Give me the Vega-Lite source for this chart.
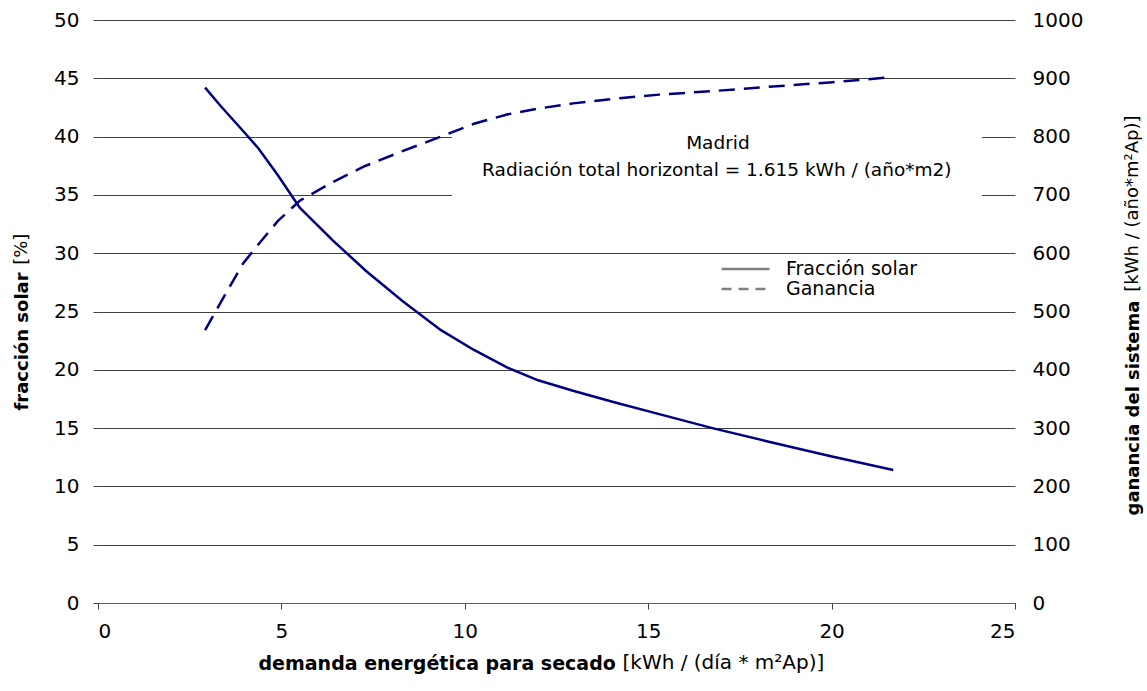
{
  "$schema": "https://vega.github.io/schema/vega-lite/v6.json",
  "width": 917,
  "height": 583,
  "autosize": {"type": "none"},
  "padding": {"left": 98, "top": 20, "right": 132, "bottom": 88},
  "background": "white",
  "config": {
    "font": "DejaVu Sans",
    "view": {"stroke": null},
    "axis": {
      "labelColor": "black",
      "titleColor": "black",
      "gridColor": "#404040",
      "gridOpacity": 1,
      "gridWidth": 1,
      "tickColor": "#404040",
      "domainColor": "#606060"
    }
  },
  "datasets": {
    "curva": [
      {"demanda": 2.92, "fraccion": 44.2, "ganancia": 468},
      {"demanda": 3.35, "fraccion": 42.6, "ganancia": 516},
      {"demanda": 3.95, "fraccion": 40.5, "ganancia": 582},
      {"demanda": 4.37, "fraccion": 39.0, "ganancia": 615},
      {"demanda": 4.9, "fraccion": 36.7, "ganancia": 655},
      {"demanda": 5.5, "fraccion": 33.9, "ganancia": 690},
      {"demanda": 6.4, "fraccion": 31.1, "ganancia": 722},
      {"demanda": 7.3, "fraccion": 28.5, "ganancia": 750},
      {"demanda": 8.3, "fraccion": 25.9, "ganancia": 775},
      {"demanda": 9.35, "fraccion": 23.4, "ganancia": 800},
      {"demanda": 10.25, "fraccion": 21.7, "ganancia": 822},
      {"demanda": 11.15, "fraccion": 20.2, "ganancia": 838},
      {"demanda": 12.0, "fraccion": 19.1, "ganancia": 848},
      {"demanda": 12.95, "fraccion": 18.2, "ganancia": 857},
      {"demanda": 14.1, "fraccion": 17.2, "ganancia": 865},
      {"demanda": 15.3, "fraccion": 16.2, "ganancia": 872},
      {"demanda": 16.75, "fraccion": 15.0, "ganancia": 878},
      {"demanda": 18.2, "fraccion": 13.9, "ganancia": 885},
      {"demanda": 19.95, "fraccion": 12.6, "ganancia": 893},
      {"demanda": 21.68, "fraccion": 11.4, "ganancia": 902}
    ],
    "leyenda": [
      {"serie": "Fracción solar"},
      {"serie": "Ganancia"}
    ],
    "uno": [{}]
  },
  "layer": [
    {
      "layer": [
        {
          "data": {"name": "uno"},
          "mark": {"type": "rect", "fill": "white"},
          "encoding": {
            "x": {"datum": 9.65, "type": "quantitative"},
            "x2": {"datum": 24.1},
            "y": {"datum": 34.4, "type": "quantitative"},
            "y2": {"datum": 40.4}
          }
        },
        {
          "data": {"name": "curva"},
          "mark": {"type": "line", "color": "#000080", "strokeWidth": 2.5},
          "encoding": {
            "x": {
              "field": "demanda",
              "type": "quantitative",
              "scale": {"domain": [0, 25], "nice": false, "zero": false},
              "axis": {
                "values": [0, 5, 10, 15, 20, 25],
                "grid": false,
                "domain": true,
                "domainWidth": 1,
                "ticks": true,
                "tickSize": 6,
                "labelFont": "DejaVu Sans",
                "labelFontSize": 20,
                "labelPadding": 12,
                "title": "demanda energética para secado",
                "titleFont": "DejaVu Sans",
                "titleFontSize": 19,
                "titleFontWeight": "bold",
                "titleAnchor": "start",
                "titleAlign": "left",
                "titleBaseline": "alphabetic",
                "titleX": 160,
                "titleY": 66
              }
            },
            "y": {
              "field": "fraccion",
              "type": "quantitative",
              "scale": {"domain": [0, 50], "nice": false},
              "axis": {
                "values": [0, 5, 10, 15, 20, 25, 30, 35, 40, 45, 50],
                "grid": true,
                "domain": false,
                "ticks": true,
                "tickSize": 5,
                "labelFont": "DejaVu Sans",
                "labelFontSize": 20,
                "labelPadding": 14,
                "title": "fracción solar",
                "titleFont": "DejaVu Sans",
                "titleFontSize": 18,
                "titleFontWeight": "bold",
                "titleAngle": 270,
                "titleAlign": "left",
                "titleBaseline": "alphabetic",
                "titleAnchor": "start",
                "titleX": -71,
                "titleY": 390
              }
            }
          }
        },
        {
          "data": {"name": "leyenda"},
          "mark": {"type": "line", "color": "#808080", "strokeWidth": 2.5},
          "encoding": {
            "strokeDash": {
              "field": "serie",
              "type": "nominal",
              "scale": {"domain": ["Fracción solar", "Ganancia"], "range": [[1, 0], [10, 7]]},
              "legend": {
                "orient": "none",
                "legendX": 622,
                "legendY": 239,
                "title": null,
                "symbolType": "stroke",
                "symbolSize": 2304,
                "symbolStrokeWidth": 2.5,
                "clipHeight": 20,
                "rowPadding": 0,
                "padding": 0,
                "labelOffset": 15,
                "labelFont": "DejaVu Sans",
                "labelFontSize": 19,
                "labelColor": "black",
                "fillColor": "white"
              }
            }
          }
        },
        {
          "data": {"name": "uno"},
          "mark": {"type": "text", "font": "DejaVu Sans", "fontSize": 18.5, "align": "center", "baseline": "middle", "color": "black"},
          "encoding": {
            "x": {"datum": 16.9, "type": "quantitative"},
            "y": {"datum": 39.45, "type": "quantitative"},
            "text": {"value": "Madrid"}
          }
        },
        {
          "data": {"name": "uno"},
          "mark": {"type": "text", "font": "DejaVu Sans", "fontSize": 18.5, "align": "center", "baseline": "middle", "color": "black"},
          "encoding": {
            "x": {"datum": 16.87, "type": "quantitative"},
            "y": {"datum": 37.1, "type": "quantitative"},
            "text": {"value": "Radiación total horizontal = 1.615 kWh / (año*m2)"}
          }
        },
        {
          "data": {"name": "uno"},
          "mark": {"type": "text", "font": "DejaVu Sans", "fontSize": 20, "align": "left", "baseline": "alphabetic", "color": "black"},
          "encoding": {
            "x": {"datum": 14.3, "type": "quantitative"},
            "y": {"datum": -5.66, "type": "quantitative"},
            "text": {"value": "[kWh / (día * m²Ap)]"}
          }
        },
        {
          "data": {"name": "uno"},
          "mark": {"type": "text", "font": "DejaVu Sans", "fontSize": 18, "align": "left", "baseline": "alphabetic", "angle": 270, "color": "black"},
          "encoding": {
            "x": {"datum": -1.94, "type": "quantitative"},
            "y": {"datum": 29.0, "type": "quantitative"},
            "text": {"value": "[%]"}
          }
        },
        {
          "data": {"name": "uno"},
          "mark": {"type": "text", "font": "DejaVu Sans", "fontSize": 18, "align": "left", "baseline": "alphabetic", "angle": 270, "color": "black"},
          "encoding": {
            "x": {"datum": 28.35, "type": "quantitative"},
            "y": {"datum": 26.7, "type": "quantitative"},
            "text": {"value": "[kWh / (año*m²Ap)]"}
          }
        }
      ]
    },
    {
      "data": {"name": "curva"},
      "mark": {"type": "line", "color": "#000080", "strokeWidth": 2.5, "strokeDash": [16, 9]},
      "encoding": {
        "x": {"field": "demanda", "type": "quantitative"},
        "y": {
          "field": "ganancia",
          "type": "quantitative",
          "scale": {"domain": [0, 1000], "nice": false},
          "axis": {
            "orient": "right",
            "values": [0, 100, 200, 300, 400, 500, 600, 700, 800, 900, 1000],
            "format": "d",
            "grid": false,
            "domain": false,
            "ticks": false,
            "labelFont": "DejaVu Sans",
            "labelFontSize": 20,
            "labelPadding": 17,
            "title": "ganancia del sistema",
            "titleFont": "DejaVu Sans",
            "titleFontSize": 18,
            "titleFontWeight": "bold",
            "titleAngle": 270,
            "titleAlign": "left",
            "titleBaseline": "alphabetic",
            "titleAnchor": "start",
            "titleX": 123,
            "titleY": 495
          }
        }
      }
    }
  ],
  "resolve": {"scale": {"y": "independent"}}
}
